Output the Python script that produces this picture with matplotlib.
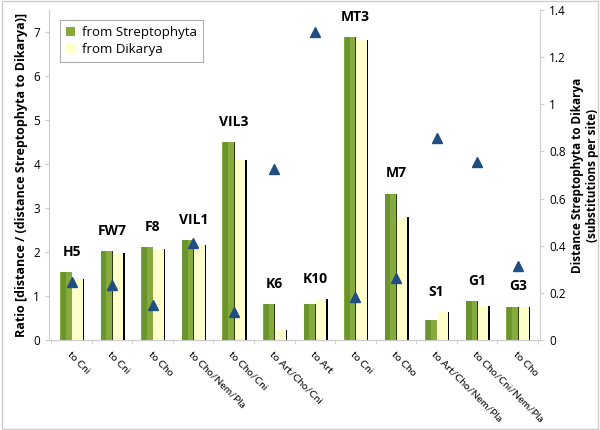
import numpy as np
import matplotlib
matplotlib.use("Agg")
import matplotlib.pyplot as plt

plt.rcParams['font.family'] = ['Open Sans', 'DejaVu Sans']

genes = ["H5", "FW7", "F8", "VIL1", "VIL3", "K6", "K10", "MT3", "M7", "S1", "G1", "G3"]
targets = ["to Cni", "to Cni", "to Cho", "to Cho/Nem/Pla", "to Cho/Cni", "to Art/Cho/Cni",
           "to Art", "to Cni", "to Cho", "to Art/Cho/Nem/Pla", "to Cho/Cni/Nem/Pla", "to Cho"]
from_strepto = [1.55, 2.03, 2.12, 2.27, 4.49, 0.82, 0.82, 6.88, 3.33, 0.45, 0.89, 0.76]
from_dikarya = [1.39, 1.98, 2.06, 2.17, 4.08, 0.23, 0.93, 6.82, 2.80, 0.63, 0.77, 0.76]
distance = [0.247, 0.233, 0.148, 0.413, 0.12, 0.724, 1.308, 0.184, 0.262, 0.856, 0.756, 0.315]

x = np.arange(len(genes))
w = 0.28

fig = plt.figure(figsize=(6, 4.3), dpi=100)
ax = fig.add_axes([0.082, 0.209, 0.818, 0.768])
ax2 = ax.twinx()

# 3d-ish bars: shadow, face, shading
ax.bar(x + w / 2 + 0.035, from_dikarya, w, color="black", zorder=1)
ax.bar(x + w / 2, from_dikarya, w, color="#ffffcc", zorder=2, label="from Dikarya")
ax.bar(x - w / 2 + 0.02, from_strepto, w, color="#2e3a12", zorder=3)
ax.bar(x - w / 2, from_strepto, w, color="#86aa3e", zorder=4, label="from Streptophyta")
ax.bar(x - w / 2 - w * 0.22, from_strepto, w * 0.45, color="#6a942c", zorder=5)

for i, g in enumerate(genes):
    top = max(from_strepto[i], from_dikarya[i])
    ax.text(x[i], top + 0.3, g, ha="center", va="bottom", fontsize=10,
            fontweight="bold", family=["Open Sans", "DejaVu Sans"])

ax2.plot(x, distance, linestyle="none", marker="^", markersize=7.5,
         color="#1f4e82", zorder=6)

ax.set_xlim(-0.55, len(genes) - 0.45)
ax.set_ylim(0, 7.5)
ax2.set_ylim(0, 1.4)
ax.set_yticks(range(8))
ax2.set_yticks([0, 0.2, 0.4, 0.6, 0.8, 1, 1.2, 1.4])
ax2.set_yticklabels(["0", "0.2", "0.4", "0.6", "0.8", "1", "1.2", "1.4"])

ax.set_xticks(x)
ax.set_xticklabels(targets, rotation=-45, ha="left", va="top", rotation_mode="anchor",
                   fontsize=7.5, family=["Lato", "DejaVu Sans"])
ax.tick_params(axis="x", length=0, pad=7)
ax.set_xticks(np.arange(len(genes) + 1) - 0.5, minor=True)
ax.tick_params(axis="x", which="minor", length=3, color="#cccccc")

for a in (ax, ax2):
    for s in a.spines.values():
        s.set_color("#cccccc")
    a.spines["top"].set_visible(False)
    a.tick_params(axis="y", labelsize=8.5, color="#cccccc", length=3)
ax.spines["right"].set_visible(False)
ax2.spines["left"].set_visible(False)

ax.set_ylabel("Ratio [distance / (distance Streptophyta to Dikarya)]",
              fontsize=9, fontweight="bold", labelpad=4)
ax2.set_ylabel("Distance Streptophyta to Dikarya\n(substitutions per site)",
               fontsize=8.5, fontweight="bold", labelpad=4)

handles, labels = ax.get_legend_handles_labels()
order = [1, 0]
leg = ax.legend([handles[k] for k in order], [labels[k] for k in order],
                loc="upper left", bbox_to_anchor=(0.022, 0.968), fontsize=9.5,
                fancybox=False, edgecolor="#999999", handlelength=0.7,
                handleheight=0.7, handletextpad=0.5, borderpad=0.45,
                labelspacing=0.25, borderaxespad=0)
leg.get_frame().set_linewidth(0.8)

fig.patches.append(plt.Rectangle((0.003, 0.003), 0.994, 0.994, transform=fig.transFigure,
                                 fill=False, edgecolor="#cccccc", linewidth=1))

fig.savefig("out.png", dpi=100)
